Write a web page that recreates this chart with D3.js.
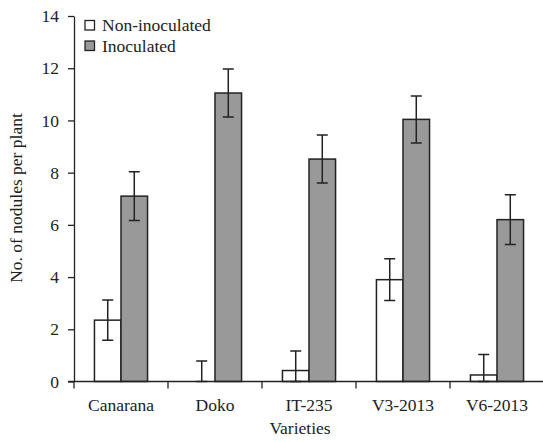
<!DOCTYPE html>
<html lang="en">
<head>
  <meta charset="utf-8">
  <title>Nodules per plant</title>
  <script src="https://d3js.org/d3.v7.min.js"></script>
  <style>
    body { margin: 0; background: #fff; }
    text { font-family: "Liberation Serif", "Times New Roman", serif; fill: #222; }
    .axis path, .axis line { stroke: #222; stroke-width: 1.3; }
    .bar { stroke: #222; stroke-width: 1.5; }
    .err { stroke: #222; stroke-width: 1.5; fill: none; }
  </style>
</head>
<body>
  <div id="chart"></div>
  <script>
    // data
    var varieties = ["Canarana", "Doko", "IT-235", "V3-2013", "V6-2013"];
    var seriesNames = ["Non-inoculated", "Inoculated"];
    var nonInoculated = [2.35, 0, 0.42, 3.9, 0.25];
    var nonInoculatedErr = [0.77, 0.79, 0.75, 0.8, 0.78];
    var inoculated = [7.1, 11.05, 8.52, 10.04, 6.2];
    var inoculatedErr = [0.93, 0.92, 0.92, 0.9, 0.95];
    var yTicks = [0, 2, 4, 6, 8, 10, 12, 14];
    var colors = ["#ffffff", "#999999"];

    var W = 543, H = 442;
    var margin = { left: 74, right: 0, top: 16, bottom: 60 };
    var fs = "17.5px";

    var svg = d3.select("#chart").append("svg")
      .attr("width", W)
      .attr("height", H);

    var x = d3.scaleBand()
      .domain(varieties)
      .range([margin.left, W + 1])
      .paddingInner(0)
      .paddingOuter(0);

    var xs = d3.scaleBand()
      .domain(seriesNames)
      .range([0, x.bandwidth()])
      .paddingOuter(0.77)
      .paddingInner(0);

    var y = d3.scaleLinear()
      .domain([0, 14])
      .range([H - margin.bottom - 0.5, margin.top]);

    var series = [
      { name: seriesNames[0], values: nonInoculated, errs: nonInoculatedErr, color: colors[0] },
      { name: seriesNames[1], values: inoculated, errs: inoculatedErr, color: colors[1] }
    ];

    // bars
    series.forEach(function (s) {
      var g = svg.append("g");
      g.selectAll("rect")
        .data(varieties)
        .enter().append("rect")
        .attr("class", "bar")
        .attr("x", function (d) { return x(d) + xs(s.name); })
        .attr("width", xs.bandwidth())
        .attr("y", function (d, i) { return y(s.values[i]); })
        .attr("height", function (d, i) { return y(0) - y(s.values[i]); })
        .attr("fill", s.color);

      // error bars
      var cap = 5.5;
      g.selectAll("path.err")
        .data(varieties)
        .enter().append("path")
        .attr("class", "err")
        .attr("d", function (d, i) {
          var cx = x(d) + xs(s.name) + xs.bandwidth() / 2;
          var top = y(s.values[i] + s.errs[i]);
          var bot = y(Math.max(0, s.values[i] - s.errs[i]));
          return "M" + (cx - cap) + "," + top + "H" + (cx + cap) +
            "M" + cx + "," + top + "V" + bot +
            "M" + (cx - cap) + "," + bot + "H" + (cx + cap);
        });
    });

    // y axis
    var yAxis = svg.append("g")
      .attr("class", "axis")
      .attr("transform", "translate(" + margin.left + ",0)")
      .call(d3.axisLeft(y).tickValues(yTicks).tickSize(6).tickSizeOuter(0).tickPadding(9));
    yAxis.selectAll("text").style("font-size", fs);

    // x axis
    var xAxis = svg.append("g")
      .attr("class", "axis")
      .attr("transform", "translate(0," + y(0) + ")");
    xAxis.append("line")
      .attr("x1", margin.left - 6).attr("x2", W)
      .attr("y1", 0).attr("y2", 0);
    xAxis.selectAll("line.tick")
      .data(varieties)
      .enter().append("line")
      .attr("x1", function (d) { return x(d); })
      .attr("x2", function (d) { return x(d); })
      .attr("y1", 0).attr("y2", 7);
    xAxis.selectAll("text")
      .data(varieties)
      .enter().append("text")
      .attr("x", function (d) { return x(d) + x.bandwidth() / 2; })
      .attr("y", 29)
      .attr("text-anchor", "middle")
      .style("font-size", fs)
      .text(function (d) { return d; });

    // axis titles
    svg.append("text")
      .attr("x", 300)
      .attr("y", 434)
      .attr("text-anchor", "middle")
      .style("font-size", fs)
      .text("Varieties");

    svg.append("text")
      .attr("transform", "translate(22," + 198 + ") rotate(-90)")
      .attr("text-anchor", "middle")
      .style("font-size", fs)
      .text("No. of nodules per plant");

    // legend
    var legend = svg.append("g").attr("transform", "translate(85,20.5)");
    series.forEach(function (s, i) {
      legend.append("rect")
        .attr("x", 0).attr("y", i * 20.5)
        .attr("width", 9.5).attr("height", 9.5)
        .attr("fill", s.color)
        .attr("stroke", "#222").attr("stroke-width", 1.3);
      legend.append("text")
        .attr("x", 17).attr("y", i * 20.5 + 10.5)
        .style("font-size", fs)
        .text(s.name);
    });
  </script>
</body>
</html>
